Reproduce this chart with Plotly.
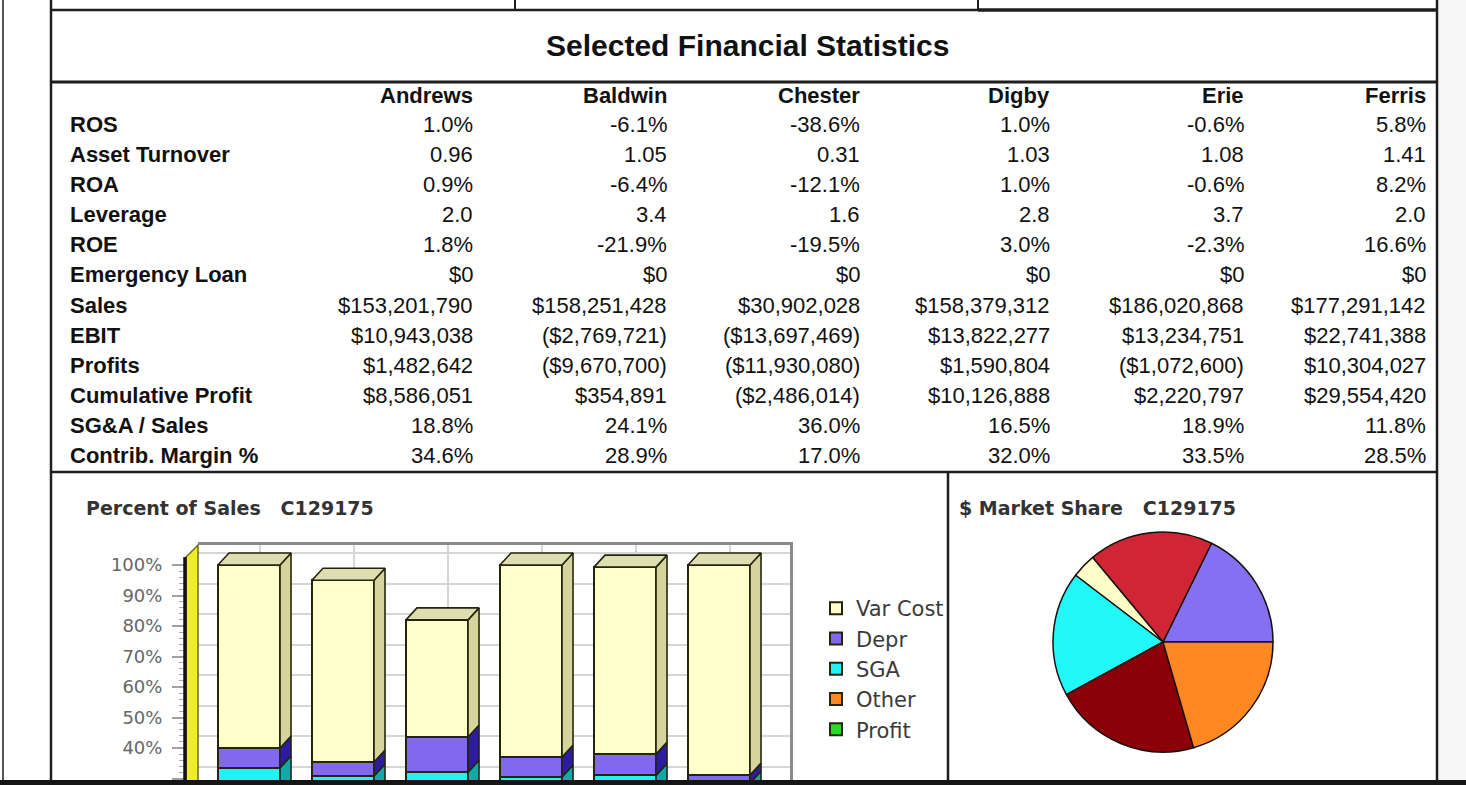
import numpy as np
import plotly.graph_objects as go

W, H = 1466, 785

# ---------------- data ----------------
companies = ["Andrews", "Baldwin", "Chester", "Digby", "Erie", "Ferris"]
row_labels = ["ROS", "Asset Turnover", "ROA", "Leverage", "ROE", "Emergency Loan",
              "Sales", "EBIT", "Profits", "Cumulative Profit", "SG&A / Sales",
              "Contrib. Margin %"]
ros = [1.0, -6.1, -38.6, 1.0, -0.6, 5.8]
asset_turnover = [0.96, 1.05, 0.31, 1.03, 1.08, 1.41]
roa = [0.9, -6.4, -12.1, 1.0, -0.6, 8.2]
leverage = [2.0, 3.4, 1.6, 2.8, 3.7, 2.0]
roe = [1.8, -21.9, -19.5, 3.0, -2.3, 16.6]
emergency_loan = [0, 0, 0, 0, 0, 0]
sales = [153201790, 158251428, 30902028, 158379312, 186020868, 177291142]
ebit = [10943038, -2769721, -13697469, 13822277, 13234751, 22741388]
profits = [1482642, -9670700, -11930080, 1590804, -1072600, 10304027]
cum_profit = [8586051, 354891, -2486014, 10126888, 2220797, 29554420]
sga_sales = [18.8, 24.1, 36.0, 16.5, 18.9, 11.8]
contrib_margin = [34.6, 28.9, 17.0, 32.0, 33.5, 28.5]

# percent-of-sales bar segments (as drawn), bottom -> top
seg_names = ["Profit", "Other", "SGA", "Depr", "Var Cost"]
seg_profit = [1.0, 0.0, 0.0, 1.0, 0.0, 5.8]
seg_other = [13.7, 6.7, 0.0, 13.0, 12.1, 10.9]
seg_sga = [18.8, 24.1, 32.1, 16.5, 18.9, 11.8]
seg_depr = [6.5, 4.6, 11.5, 6.5, 7.0, 2.6]
seg_var = [60.0, 59.6, 38.4, 63.0, 61.3, 68.9]
y_ticks = [30, 40, 50, 60, 70, 80, 90, 100]

# ---------------- styles ----------------
seg_front = ["#22dd22", "#ff8822", "#22f2f2", "#8068f0", "#ffffcc"]
seg_side = ["#109010", "#b05a10", "#10a8a8", "#2c1ca0", "#d4d49c"]
seg_top = ["#40c040", "#e09050", "#60d8d8", "#6050d0", "#dedeb0"]
edge = "#25250f"
pie_colors = ["#8470f0", "#d02535", "#ffffc8", "#22f8f8", "#8c0008", "#ff8822"]


def X(p):
    return p / W


def Y(p):
    return 1 - p / H


def pct(v):
    return f"{v:.1f}%"


def money(v):
    return f"${v:,}" if v >= 0 else f"(${-v:,})"


rows = [
    [pct(v) for v in ros],
    [f"{v:.2f}" for v in asset_turnover],
    [pct(v) for v in roa],
    [f"{v:.1f}" for v in leverage],
    [pct(v) for v in roe],
    [money(v) for v in emergency_loan],
    [money(v) for v in sales],
    [money(v) for v in ebit],
    [money(v) for v in profits],
    [money(v) for v in cum_profit],
    [pct(v) for v in sga_sales],
    [pct(v) for v in contrib_margin],
]

fig = go.Figure()

# ---------------- bar chart geometry ----------------
px_per_cat = 94.0
px_per_pct = 3.05
cx0 = 249.0          # pixel of first category (front)
zero_front = 870.0   # pixel of 0% (front)
depth_x, depth_y = 11.0, 12.0

# back wall axes (xaxis / yaxis): gridlines + box
bx0, bx1, by_top = 198.0, 790.0, 545.0
back_xr = [(bx0 - cx0 - depth_x) / px_per_cat, (bx1 - cx0 - depth_x) / px_per_cat]
back_yr = [(zero_front - depth_y - H) / px_per_pct, (zero_front - depth_y - by_top) / px_per_pct]
# front axes (xaxis2 / yaxis2): bars + tick labels
fx0, fx1, fy_top = 185.0, 779.0, 520.0
front_xr = [(fx0 - cx0) / px_per_cat, (fx1 - cx0) / px_per_cat]
front_yr = [(zero_front - H) / px_per_pct, (zero_front - fy_top) / px_per_pct]

# invisible trace to create back subplot
fig.add_trace(go.Scatter(x=[0], y=[50], mode="markers", marker=dict(opacity=0),
                         showlegend=False, hoverinfo="skip", xaxis="x", yaxis="y"))

xs = np.arange(len(companies), dtype=float)
segs = [seg_profit, seg_other, seg_sga, seg_depr, seg_var]
bw = 0.66
for name, vals, col in zip(seg_names, segs, seg_front):
    fig.add_trace(go.Bar(x=xs, y=vals, name=name, width=bw, xaxis="x2", yaxis="y2",
                         marker=dict(color=col, line=dict(color=edge, width=2)),
                         hoverinfo="skip"))

dxu = depth_x / px_per_cat
dyu = depth_y / px_per_pct
cum = np.cumsum(np.array(segs), axis=0)
bases = np.vstack([np.zeros(len(companies)), cum[:-1]])
for k in range(len(segs)):
    for i, xc in enumerate(xs):
        b, t = bases[k][i], cum[k][i]
        if t - b <= 0:
            continue
        xr = xc + bw / 2
        fig.add_trace(go.Scatter(
            x=[xr, xr + dxu, xr + dxu, xr, xr], y=[b, b + dyu, t + dyu, t, b],
            fill="toself", fillcolor=seg_side[k], mode="lines",
            line=dict(color=edge, width=1.6), showlegend=False, hoverinfo="skip",
            xaxis="x2", yaxis="y2"))
        if k == len(segs) - 1:
            xl = xc - bw / 2
            fig.add_trace(go.Scatter(
                x=[xl, xr, xr + dxu, xl + dxu, xl], y=[t, t, t + dyu, t + dyu, t],
                fill="toself", fillcolor=seg_top[k], mode="lines",
                line=dict(color=edge, width=1.6), showlegend=False, hoverinfo="skip",
                xaxis="x2", yaxis="y2"))

# ---------------- pie ----------------
pcx, pcy, pr = 1163.0, 642.0, 110.0
first_share = sales[0] / sum(sales)
fig.add_trace(go.Pie(labels=companies, values=sales, sort=False,
                     direction="counterclockwise", rotation=90 - 360 * first_share,
                     marker=dict(colors=pie_colors, line=dict(color="#1a1010", width=1.5)),
                     textinfo="none", hoverinfo="label+percent", showlegend=False,
                     domain=dict(x=[X(pcx - pr), X(pcx + pr)], y=[Y(pcy + pr), Y(pcy - pr)])))

# ---------------- annotations ----------------
ann = []
tcol = "#111111"
ann.append(dict(text="<b>Selected Financial Statistics</b>", x=X(748), y=Y(46),
                xref="paper", yref="paper", showarrow=False, xanchor="center", yanchor="middle",
                font=dict(family="Liberation Sans, Arial", size=30, color=tcol)))
col_right = [473, 667, 860, 1050, 1244, 1426]
for c, xr in zip(companies, col_right):
    ann.append(dict(text=f"<b>{c}</b>", x=X(xr + 2), y=Y(96), xref="paper", yref="paper",
                    showarrow=False, xanchor="right", yanchor="middle",
                    font=dict(family="Liberation Sans, Arial", size=22, color=tcol)))
for r, (lab, vals) in enumerate(zip(row_labels, rows)):
    yy = 125 + 30 * r
    ann.append(dict(text=f"<b>{lab.replace('&', '&amp;')}</b>", x=X(68), y=Y(yy),
                    xref="paper", yref="paper", showarrow=False, xanchor="left",
                    yanchor="middle",
                    font=dict(family="Liberation Sans, Arial", size=22, color=tcol)))
    for v, xr in zip(vals, col_right):
        ann.append(dict(text=v, x=X(xr + 2), y=Y(yy), xref="paper", yref="paper",
                        showarrow=False, xanchor="right", yanchor="middle",
                        font=dict(family="Liberation Sans, Arial", size=22, color=tcol)))
ann.append(dict(text="<b>Percent of Sales\u00a0\u00a0\u00a0C129175</b>", x=X(84), y=Y(508),
                xref="paper", yref="paper", showarrow=False, xanchor="left", yanchor="middle",
                font=dict(family="DejaVu Sans", size=19, color="#333333")))
ann.append(dict(text="<b>$ Market Share\u00a0\u00a0\u00a0C129175</b>", x=X(957), y=Y(508),
                xref="paper", yref="paper", showarrow=False, xanchor="left", yanchor="middle",
                font=dict(family="DejaVu Sans", size=19, color="#333333")))

# ---------------- frame shapes ----------------
shapes = []
lc = "#1e1e1e"


def hline(y, x0, x1, w=2.5, c=lc):
    shapes.append(dict(type="line", xref="paper", yref="paper", x0=X(x0), x1=X(x1),
                       y0=Y(y), y1=Y(y), line=dict(color=c, width=w)))


def vline(x, y0, y1, w=2.5, c=lc):
    shapes.append(dict(type="line", xref="paper", yref="paper", x0=X(x), x1=X(x),
                       y0=Y(y0), y1=Y(y1), line=dict(color=c, width=w)))


shapes.append(dict(type="rect", xref="paper", yref="paper", x0=X(1438), x1=1, y0=0, y1=1,
                   fillcolor="#f6f6f6", line=dict(width=0), layer="below"))
vline(3, 0, 785, w=2, c="#555555")
vline(51, 0, 785)
vline(1437, 0, 785)
vline(515, 0, 10, w=2)
vline(978, 0, 10, w=2)
hline(10, 51, 978, w=2.5)
hline(10, 978, 1437, w=3.5)
hline(82, 51, 1437, w=3)
hline(472, 51, 1437, w=2.5)
vline(948, 472, 785, w=2.5)
# side wall of the 3-D bar chart
wall_top_front = zero_front - 102.6 * px_per_pct
shapes.append(dict(type="path", xref="paper", yref="paper",
                   path=f"M{X(186)},{Y(H)} L{X(186)},{Y(wall_top_front)} "
                        f"L{X(bx0)},{Y(by_top)} L{X(bx0)},{Y(H)} Z",
                   fillcolor="#eeee22", line=dict(color="#6a6a20", width=1.5)))
vline(185, wall_top_front, 785, w=3.5, c="#111111")
hline(782.5, 0, W, w=5, c="#151515")

fig.update_layout(
    width=W, height=H, margin=dict(l=0, r=0, t=0, b=0),
    paper_bgcolor="white", plot_bgcolor="rgba(0,0,0,0)",
    barmode="stack", bargap=0.3,
    annotations=ann, shapes=shapes,
    xaxis=dict(domain=[X(bx0), X(bx1)], range=back_xr, tickvals=list(xs),
               showticklabels=False, ticks="", showgrid=True, gridcolor="#d6d6d6",
               gridwidth=2, zeroline=False, showline=True, side="top",
               linecolor="#8a8a8a", linewidth=2.5, fixedrange=True),
    yaxis=dict(domain=[0, Y(by_top)], range=back_yr, tickvals=y_ticks,
               showticklabels=False, ticks="", showgrid=True, gridcolor="#d6d6d6",
               gridwidth=2, zeroline=False, showline=True, side="right",
               linecolor="#8a8a8a", linewidth=2.5, fixedrange=True),
    xaxis2=dict(domain=[X(fx0), X(fx1)], range=front_xr, anchor="y2", visible=False,
                fixedrange=True),
    yaxis2=dict(domain=[0, Y(fy_top)], range=front_yr, anchor="x2", tickvals=y_ticks,
                ticktext=[f"{v}%" for v in y_ticks], ticks="outside", ticklen=12,
                tickwidth=2, tickcolor="#a0a0a0", showgrid=False, zeroline=False,
                showline=False, ticklabelstandoff=6,
                tickfont=dict(family="DejaVu Sans", size=18, color="#666666"),
                minor=dict(tickvals=list(range(28, 101, 2)), ticks="outside", ticklen=5,
                           tickcolor="#a8a8a8", tickwidth=1),
                fixedrange=True),
    legend=dict(x=X(816), y=Y(588), xanchor="left", yanchor="top", traceorder="reversed",
                bgcolor="rgba(0,0,0,0)", borderwidth=0,
                font=dict(family="DejaVu Sans", size=21, color="#3a3a3a")),
)

fig.write_html("out.html", config={"displayModeBar": False},
               post_script="document.documentElement.style.overflow='hidden';"
                           "document.body.style.margin='0px';"
                           "document.body.style.overflow='hidden';")
